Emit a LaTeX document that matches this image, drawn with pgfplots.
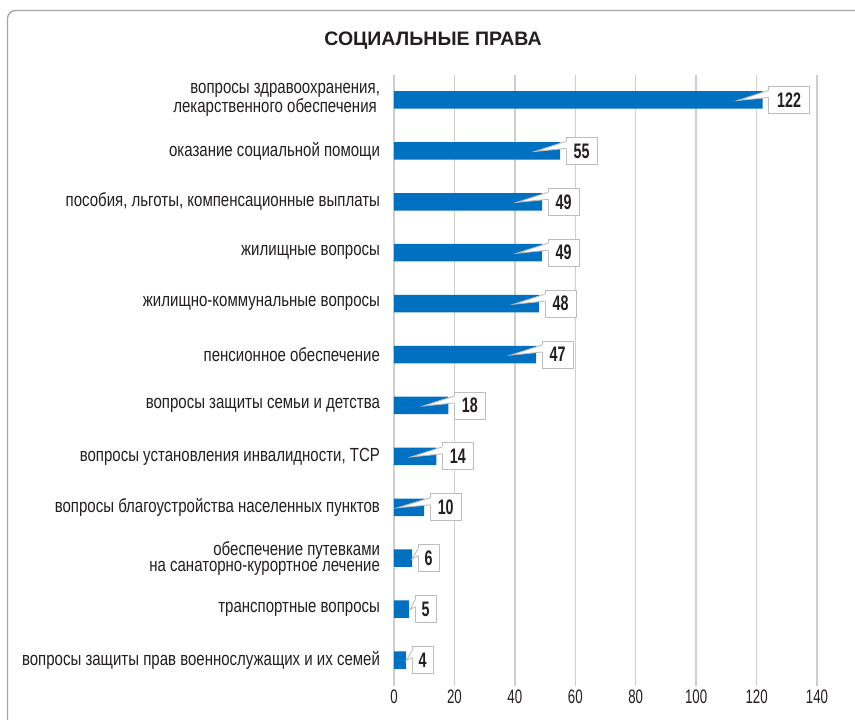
\documentclass[border=0pt]{standalone}
\usepackage{fontspec}
\usepackage{pgfplots}
\pgfplotsset{compat=1.18}
\usepackage{pgfplotstable}
\setmainfont{Liberation Sans}
\newfontfamily\labfont{Liberation Sans}[FakeStretch=0.79]
\newfontfamily\numfont{Liberation Sans}[FakeStretch=0.68]
\definecolor{barblue}{RGB}{0,112,192}
\definecolor{gridgray}{RGB}{206,206,206}
\definecolor{boxgray}{RGB}{190,190,190}
\definecolor{framegray}{RGB}{165,165,165}
\definecolor{txt}{RGB}{35,31,32}

\pgfplotstableread{
y val w d
0 122 41 31
1 55 31 31
2 49 31 31
3 49 31 31
4 48 31 31
5 47 31 31
6 18 31 31
7 14 31 31
8 10 31 33
9 6 21 6
10 5 21 5
11 4 21 6
}\datatable

\begin{document}
\begin{tikzpicture}
\useasboundingbox (0pt,0pt) rectangle (855pt,-720pt);
\fill[white] (0pt,0pt) rectangle (855pt,-720pt);
\draw[framegray, line width=1.3pt, rounded corners=8pt] (7.5pt,-725pt) -- (7.5pt,-10.5pt) -- (862pt,-10.5pt);
\node[font=\fontsize{19.5}{22}\selectfont\bfseries, text=txt] at (433pt,-40.5pt) {СОЦИАЛЬНЫЕ ПРАВА};
\begin{axis}[
  at={(394pt,-685.5pt)}, anchor=south west,
  scale only axis, width=423pt, height=611pt,
  xmin=0, xmax=140, ymin=-0.5, ymax=11.5, y dir=reverse,
  axis line style={draw=none},
  major tick length=0pt,
  xtick={0,20,...,140},
  xmajorgrids, major grid style={gridgray, line width=1.3pt},
  ytick={0,...,11},
  yticklabels={
    {вопросы здравоохранения,\\лекарственного обеспечения\,},
    оказание социальной помощи,
    {пособия, льготы, компенсационные выплаты},
    жилищные вопросы,
    жилищно-коммунальные вопросы,
    пенсионное обеспечение,
    вопросы защиты семьи и детства,
    {вопросы установления инвалидности, ТСР},
    вопросы благоустройства населенных пунктов,
    {обеспечение путевками\\на санаторно-курортное лечение},
    транспортные вопросы,
    вопросы защиты прав военнослужащих и их семей},
  yticklabel style={align=right, font=\labfont\fontsize{19}{16}\selectfont, text=txt, xshift=-10.5pt},
  xticklabel style={font=\numfont\fontsize{19.5}{20}\selectfont, text=txt, yshift=-1pt},
  /pgf/number format/assume math mode=true,
  clip=false,
  xbar, bar width=17.5pt,
  nodes near coords, point meta=explicit symbolic,
  visualization depends on={\thisrow{w} \as \bw},
  visualization depends on={\thisrow{d} \as \bd},
  every node near coord/.append style={draw=boxgray, fill=white,
    line width=0.9pt, outer sep=0pt, anchor=west, xshift=6pt, minimum height=27pt,
    minimum width=\bw pt, inner xsep=0pt, inner ysep=0pt,
    font=\numfont\bfseries\fontsize{21}{21}\selectfont, text=txt,
    append after command={
      ([yshift=-4pt,xshift=1pt]\tikzlastnode.north west)
        edge[draw=none, fill=white, to path={
          -- ([yshift=-4pt]\tikzlastnode.north west)
          -- ([xshift=-\bd pt, yshift=-0.5pt]\tikzlastnode.west)
          -- ([yshift=-11pt]\tikzlastnode.north west)
          -- ([yshift=-11pt,xshift=1pt]\tikzlastnode.north west) -- cycle}]
        (\tikzlastnode.west)
      ([yshift=-4pt]\tikzlastnode.north west)
        edge[draw=boxgray, fill=none, line width=0.9pt, line join=miter, to path={
          -- ([xshift=-\bd pt, yshift=-0.5pt]\tikzlastnode.west)
          -- ([yshift=-11pt]\tikzlastnode.north west)}]
        (\tikzlastnode.west)
    }},
]
\addplot[fill=barblue, draw=none] table[x=val, y=y, meta=val] {\datatable};
\end{axis}
\end{tikzpicture}
\end{document}
